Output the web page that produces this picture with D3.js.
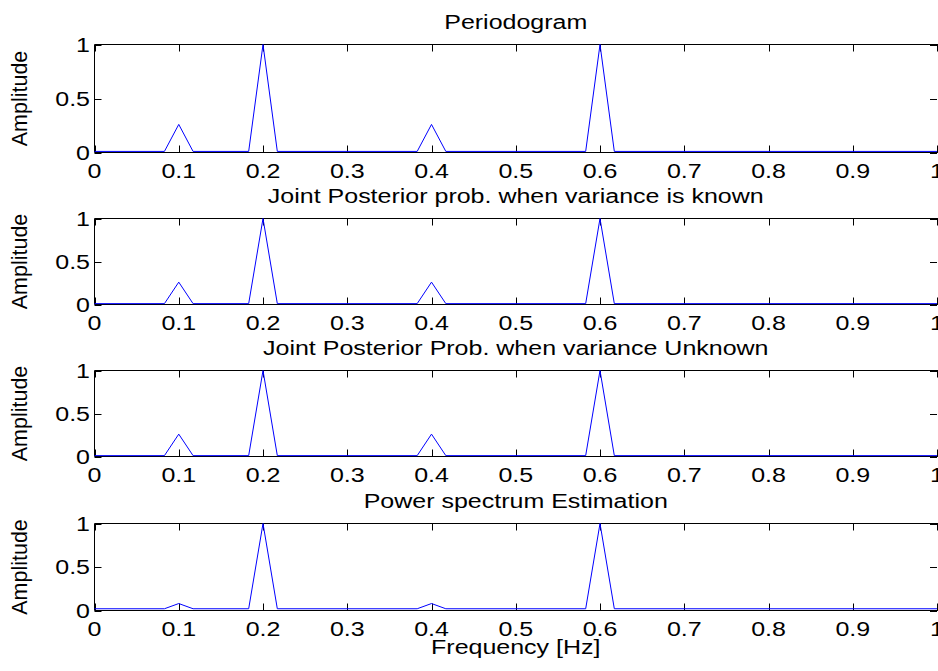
<!DOCTYPE html>
<html lang="en">
<head>
<meta charset="utf-8">
<title>Periodogram and posterior probabilities</title>
<script src="https://d3js.org/d3.v7.min.js"></script>
<style>
    body { margin: 0; background: #fff; }
    svg text { font-family: "Liberation Sans", Arial, Helvetica, sans-serif; fill: #000; }
</style>
</head>
<body>
<script>
    // line vertices (frequency in Hz, amplitude)
    var freq        = [0, 0.083, 0.1, 0.117, 0.183, 0.2, 0.217, 0.383, 0.4, 0.417, 0.583, 0.6, 0.617, 1];
    var periodogram = [0.01, 0.01, 0.26, 0.01, 0.01, 1, 0.01, 0.01, 0.26, 0.01, 0.01, 1, 0.01, 0.01];
    var knownVar    = [0.01, 0.01, 0.26, 0.01, 0.01, 1, 0.01, 0.01, 0.26, 0.01, 0.01, 1, 0.01, 0.01];
    var unknownVar  = [0.01, 0.01, 0.26, 0.01, 0.01, 1, 0.01, 0.01, 0.26, 0.01, 0.01, 1, 0.01, 0.01];
    var powerSpec   = [0.02, 0.02, 0.08, 0.02, 0.02, 1, 0.02, 0.02, 0.08, 0.02, 0.02, 1, 0.02, 0.02];

    var titles = ["Periodogram",
                  "Joint Posterior prob. when variance is known",
                  "Joint Posterior Prob. when variance Unknown",
                  "Power spectrum Estimation"];
    var series = [periodogram, knownVar, unknownVar, powerSpec];

    var xTicks = [0, 0.1, 0.2, 0.3, 0.4, 0.5, 0.6, 0.7, 0.8, 0.9, 1];
    var xTickLabels = ["0", "0.1", "0.2", "0.3", "0.4", "0.5", "0.6", "0.7", "0.8", "0.9", "1"];
    var yTicks = [0, 0.5, 1];
    var yTickLabels = ["0", "0.5", "1"];

    var width = 938, height = 671;
    var left = 94.5, right = 937;
    var sx = 1.25;        // text in the picture is stretched sideways
    var tickLen = 7;

    // axes boxes (top / bottom pixel rows)
    var boxes = [
        { top: 44.5, bottom: 152.5 },
        { top: 218.5, bottom: 304.5 },
        { top: 370.5, bottom: 456.5 },
        { top: 523.5, bottom: 610.5 }
    ];

    var svg = d3.select("body").append("svg")
        .attr("width", width)
        .attr("height", height);

    var x = d3.scaleLinear().domain([0, 1]).range([left, right]);

    function label(g, txt, px, py, anchor) {
        return g.append("text")
            .attr("transform", "translate(" + px + "," + py + ") scale(" + sx + ",1)")
            .attr("text-anchor", anchor || "middle")
            .style("font-size", "20px")
            .text(txt);
    }

    series.forEach(function(vals, i) {
        var b = boxes[i];
        var y = d3.scaleLinear().domain([0, 1]).range([b.bottom, b.top]);
        var g = svg.append("g");

        // ticks inside the box
        xTicks.forEach(function(t) {
            var xp = Math.round(x(t)) + 0.5;
            g.append("line").attr("x1", xp).attr("x2", xp)
                .attr("y1", b.top).attr("y2", b.top + tickLen)
                .attr("stroke", "#000");
            g.append("line").attr("x1", xp).attr("x2", xp)
                .attr("y1", b.bottom).attr("y2", b.bottom - tickLen)
                .attr("stroke", "#000");
        });
        yTicks.forEach(function(t) {
            var yp = Math.round(y(t)) + 0.5;
            g.append("line").attr("x1", left).attr("x2", left + tickLen)
                .attr("y1", yp).attr("y2", yp).attr("stroke", "#000");
            g.append("line").attr("x1", right - tickLen).attr("x2", right)
                .attr("y1", yp).attr("y2", yp).attr("stroke", "#000");
        });

        // box
        g.append("path")
            .attr("d", "M" + width + "," + b.top + "H" + left + "V" + b.bottom + "H" + width)
            .attr("fill", "none")
            .attr("stroke", "#000");

        // data line
        var line = d3.line()
            .x(function(d) { return x(d[0]); })
            .y(function(d) { return y(d[1]); });
        g.append("path")
            .datum(freq.map(function(f, k) { return [f, vals[k]]; }))
            .attr("d", line)
            .attr("fill", "none")
            .attr("stroke", "#0000ff")
            .attr("stroke-width", 1);

        // tick labels
        xTicks.forEach(function(t, k) {
            label(g, xTickLabels[k], x(t), b.bottom + 25);
        });
        yTicks.forEach(function(t, k) {
            label(g, yTickLabels[k], 90, y(t) + 7, "end");
        });

        // y label
        g.append("text")
            .attr("transform", "translate(27," + ((b.top + b.bottom) / 2) + ") rotate(-90)")
            .attr("text-anchor", "middle")
            .style("font-size", "21.5px")
            .text("Amplitude");

        // title
        label(g, titles[i], (left + right) / 2, b.top - 16);
    });

    label(svg, "Frequency [Hz]", (left + right) / 2, 654);
</script>
</body>
</html>
